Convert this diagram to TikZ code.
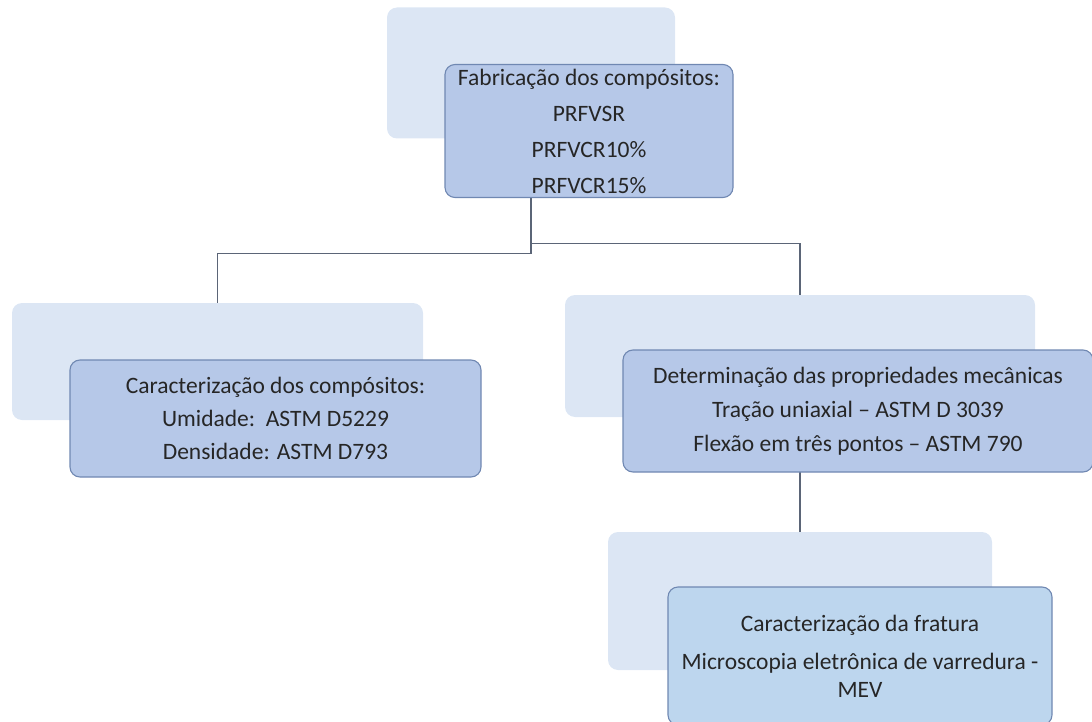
\documentclass[tikz,border=0pt]{standalone}
\usepackage{fontspec}
\setmainfont{Carlito}
\definecolor{backblue}{HTML}{DCE6F4}
\definecolor{frontblue}{HTML}{B6C8E8}
\definecolor{paleblue}{HTML}{BDD6EE}
\definecolor{edgeblue}{HTML}{7088B2}
\definecolor{linkgray}{HTML}{5B6577}

\begin{document}
\begin{tikzpicture}[x=1pt, y=-1pt,
  backbox/.style={fill=backblue, rounded corners=10pt, inner sep=0pt},
  frontbox/.style={fill=frontblue, draw=edgeblue, line width=1.1pt, rounded corners=10pt,
    inner sep=0pt, align=center, text=black!85, font=\fontsize{23.5}{28}\selectfont},
  link/.style={draw=linkgray, line width=1.5pt}, ]

\useasboundingbox (0,0) rectangle (1092,722);

% Textured shapes lying behind each box
\node[backbox, minimum width=288pt, minimum height=131pt] (fabB) at (531,73) {};
\node[backbox, minimum width=411pt, minimum height=117pt] (caracB) at (217.5,361.5) {};
\node[backbox, minimum width=470pt, minimum height=122pt] (mecB) at (800,356) {};
\node[backbox, minimum width=384pt, minimum height=138pt] (fratB) at (800,601) {};

% Connectors between the levels
\draw[link] (fabB.south) -- ([yshift=-115pt]fabB.south) -| (caracB.north);
\draw[link] ([yshift=-105pt]fabB.south) -| (mecB.north);
\draw[link] (mecB.south) -- (fratB.north);

% Boxes with the text
\node[frontbox, minimum width=288pt, minimum height=133pt] (fab) at (589,131)
  {Fabricação dos compósitos:\\[8pt] PRFVSR\\[8pt] PRFVCR10\%\\[8pt] PRFVCR15\%};
\node[frontbox, minimum width=411pt, minimum height=117pt] (carac) at (275.5,418.5)
  {Caracterização dos compósitos:\\[5pt] Umidade:\ \ ASTM D5229\\[5pt] Densidade: ASTM D793};
\node[frontbox, minimum width=470pt, minimum height=122pt] (mec) at (858,411)
  {Determinação das propriedades mecânicas\\[6pt] Tração uniaxial -- ASTM D 3039\\[6pt] Flexão em três pontos -- ASTM 790};
\node[frontbox, fill=paleblue, minimum width=384pt, minimum height=138pt] (frat) at (860,656)
  {Caracterização da fratura\\[10pt] Microscopia eletrônica de varredura -\\MEV};

\end{tikzpicture}
\end{document}
